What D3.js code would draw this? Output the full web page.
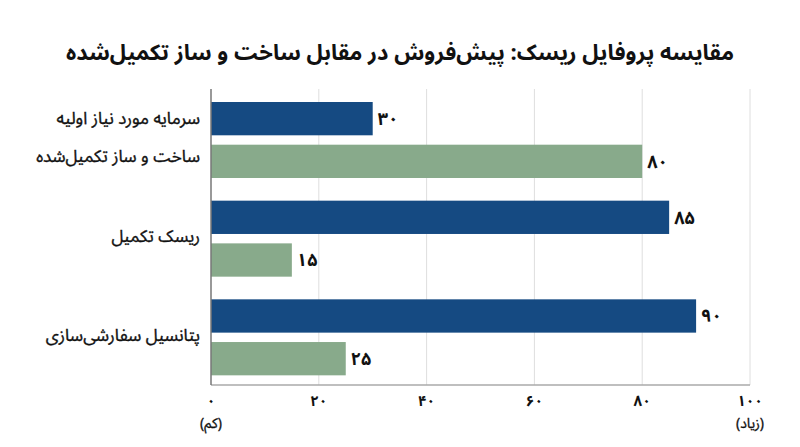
<!DOCTYPE html>
<html><head><meta charset="utf-8">
<script src="https://cdn.jsdelivr.net/npm/d3@7/dist/d3.min.js"></script>
<style>
body{margin:0;background:#fff;}
text{font-family:"Noto Sans Arabic","Vazirmatn","DejaVu Sans",sans-serif;fill:#111;}
</style></head>
<body><svg id="c" width="800" height="447"></svg>
<script>
const title = "مقایسه پروفایل ریسک: پیش‌فروش در مقابل ساخت و ساز تکمیل‌شده";
const categories = [
  ["سرمایه مورد نیاز اولیه", "ساخت و ساز تکمیل‌شده"],
  ["ریسک تکمیل"],
  ["پتانسیل سفارشی‌سازی"]
];
const presaleValues = [30, 85, 90];
const completedValues = [80, 15, 25];
const tickValues = [0, 20, 40, 60, 80, 100];
const tickSubLabels = {0: "(کم)", 100: "(زیاد)"};
const colors = ["#154a82", "#88aa8b"];

const fa = n => String(n).replace(/\d/g, d => "۰۱۲۳۴۵۶۷۸۹"[d]);

const svg = d3.select("#c");
const m = {left: 211, right: 750, top: 89, bottom: 385};
const x = d3.scaleLinear().domain([0, 100]).range([m.left, m.right]);
const y = d3.scaleBand().domain(d3.range(categories.length)).range([m.top, m.bottom]);
const inner = d3.scaleBand().domain([0, 1]).range([13, 89]).paddingInner(0.22);

svg.append("text").attr("x", 400).attr("y", 60).attr("text-anchor", "middle")
  .attr("font-size", 22).attr("font-weight", "bold").text(title);

// grid
svg.append("g").selectAll("line").data(tickValues.slice(1)).join("line")
  .attr("x1", d => x(d)).attr("x2", d => x(d)).attr("y1", m.top).attr("y2", m.bottom)
  .attr("stroke", "#dedede").attr("stroke-width", 1);

// bars
const series = [presaleValues, completedValues];
series.forEach((vals, si) => {
  const g = svg.append("g");
  g.selectAll("rect").data(vals).join("rect")
    .attr("x", x(0)).attr("y", (d, i) => y(i) + inner(si))
    .attr("width", d => x(d) - x(0)).attr("height", inner.bandwidth())
    .attr("fill", colors[si]);
  g.selectAll("text").data(vals).join("text")
    .attr("x", d => x(d) + 5).attr("y", (d, i) => y(i) + inner(si) + inner.bandwidth() / 2)
    .attr("dy", "0.35em").attr("font-size", 18).attr("font-weight", "bold").text(d => fa(d));
});

// axes lines
svg.append("line").attr("x1", m.left).attr("x2", m.right).attr("y1", m.bottom).attr("y2", m.bottom)
  .attr("stroke", "#aaa").attr("stroke-width", 1.5);
svg.append("line").attr("x1", m.left).attr("x2", m.left).attr("y1", m.top).attr("y2", m.bottom)
  .attr("stroke", "#777").attr("stroke-width", 1.5);

// category labels
categories.forEach((lines, i) => {
  const cy = y(i) + y.bandwidth() / 2 - 1;
  lines.forEach((ln, j) => {
    svg.append("text").attr("x", 200).attr("y", cy + (j - (lines.length - 1) / 2) * 38)
      .attr("dy", "0.35em").attr("text-anchor", "end").attr("font-size", 17)
      .attr("stroke", "#111").attr("stroke-width", 0.35).text(ln);
  });
});

// x tick labels (digit + optional sub-label as one text with two lines)
const xt = svg.append("g");
tickValues.forEach(t => {
  const tx = xt.append("text").attr("x", x(t)).attr("y", 400).attr("dy", "0.35em")
    .attr("text-anchor", "middle");
  tx.append("tspan").attr("x", x(t)).attr("font-size", 15).attr("font-weight", "bold").text(fa(t));
  if (tickSubLabels[t]) tx.append("tspan").attr("x", x(t)).attr("dy", 22).attr("font-size", 14)
    .attr("stroke", "#111").attr("stroke-width", 0.3).text(tickSubLabels[t]);
});
</script></body></html>
